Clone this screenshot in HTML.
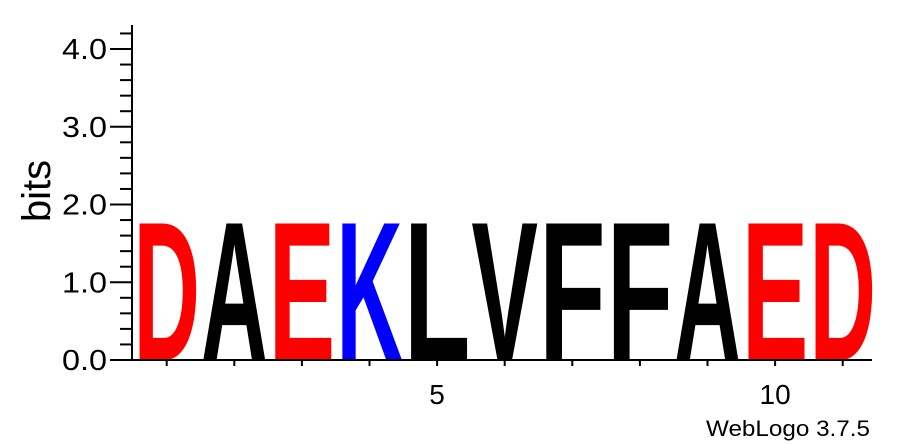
<!DOCTYPE html>
<html><head><meta charset="utf-8"><style>
html,body{margin:0;padding:0;background:#fff;}
svg{display:block;font-family:"Liberation Sans",Arial,sans-serif;}
</style></head><body>
<svg id="chart" width="897" height="444" viewBox="0 0 897 444" xmlns="http://www.w3.org/2000/svg"></svg>
<script>
const letters = ["D","A","E","K","L","V","F","F","A","E","D"];
const colors = ["red","black","red","blue","black","black","black","black","black","red","red"];
const heights = [1.76,1.76,1.76,1.76,1.76,1.76,1.76,1.76,1.76,1.76,1.76];
const yTicks = [0,1,2,3,4];
const yTickLabels = ["0.0","1.0","2.0","3.0","4.0"];
const xTickLabels = ["5","10"];
const xTickPositions = [5,10];

const NS = "http://www.w3.org/2000/svg";
const svg = document.getElementById("chart");
const axisX = 132, baseY = 360, unit = 77.75, step = 67.6, firstX = 166.7;
const y = v => baseY - v * unit;
const x = p => firstX + (p - 1) * step;
function mk(tag, attrs){const e=document.createElementNS(NS,tag);for(const k in attrs)e.setAttribute(k,attrs[k]);svg.appendChild(e);return e;}

// letters
letters.forEach((L,i)=>{
  const h = heights[i]*unit;
  const cx = x(i+1);
  const w = step - 1;
  const capH = 69;
  const g = mk("g",{transform:`translate(${cx-w/2},${baseY}) scale(1,${h/capH})`});
  
  
  const t = document.createElementNS(NS,"text");
  t.setAttribute("x",0);t.setAttribute("y",0);
  t.setAttribute("font-size",100);t.setAttribute("font-weight","bold");
  t.setAttribute("fill",colors[i]);
  t.setAttribute("textLength",w);t.setAttribute("lengthAdjust","spacingAndGlyphs");
  t.textContent=L;
  g.appendChild(t);
});

// y axis
const ya = mk("line",{x1:axisX,y1:25,x2:axisX,y2:baseY+1,stroke:"#000","stroke-width":2});


for(let v=0; v<=4.2001; v+=0.2){
  const major = Math.abs(v-Math.round(v))<1e-6;
  const tk = mk("line",{x1:major?110:120,y1:y(v),x2:axisX,y2:y(v),stroke:"#000","stroke-width":2});
  
  
}
yTicks.forEach((v,i)=>{
  const t = mk("text",{x:62,y:y(v)+10,"font-size":29,fill:"#000",textLength:45,lengthAdjust:"spacingAndGlyphs"});
  t.textContent = yTickLabels[i];
  
  
});
const yt = mk("text",{x:0,y:0,"font-size":40,"text-anchor":"middle",fill:"#000",transform:"translate(50,191) rotate(-90)"});
yt.textContent="bits";



// x axis
const xa = mk("line",{x1:axisX,y1:baseY,x2:872,y2:baseY,stroke:"#000","stroke-width":2});


letters.forEach((L,i)=>{
  const tk = mk("line",{x1:x(i+1),y1:baseY,x2:x(i+1),y2:baseY+6,stroke:"#000","stroke-width":2});
  
  
});
xTickLabels.forEach((s,i)=>{
  const t = mk("text",{x:x(xTickPositions[i]),y:404,"font-size":28,"text-anchor":"middle",fill:"#000"});
  t.textContent=s;
  
  
});
const wl = mk("text",{x:706,y:436,"font-size":22,fill:"#000",textLength:164,lengthAdjust:"spacingAndGlyphs"});
wl.textContent="WebLogo 3.7.5";


</script>
</body></html>
